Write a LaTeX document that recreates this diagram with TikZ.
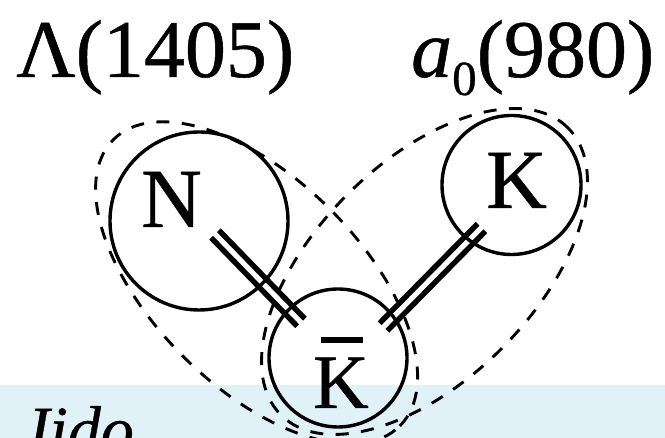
\documentclass[tikz,border=0pt]{standalone}
\usepackage{fontspec}
\setmainfont{Liberation Serif}[FakeBold=0.6]
\usetikzlibrary{calc}
\definecolor{band}{RGB}{224,242,248}
\begin{document}
\begin{tikzpicture}[x=1pt,y=1pt,
  ring/.style={draw, circle, line width=3.4pt, inner sep=0pt},
  halo/.style={draw, line width=2.9pt, dash pattern=on 13pt off 12.5pt},
  bond/.style={line width=5.4pt},
  lbl/.style={inner sep=0pt, anchor=base west, font=\fontsize{84}{84}\selectfont}]
\useasboundingbox (0,0) rectangle (665,438);
\clip (0,0) rectangle (665,438);
\fill[band] (0,0) rectangle (665,53);
% dashed groupings
\coordinate (cA) at (256.6,155.2);
\coordinate (cB) at (424.5,166.5);
\draw[halo, rotate around={-45:(cA)}] (cA) ellipse [x radius=202.5pt, y radius=104pt];
\draw[halo, rotate around={45:(cB)}] (cB) ellipse [x radius=203pt, y radius=109pt];
% particles
\node[ring, minimum size=178pt] (N) at (199,217) {};
\node[ring, minimum size=139pt] (K) at (511.5,253) {};
\node[ring, minimum size=138pt] (Kb) at (338,80) {};
\node[lbl] (Nl) at (141,211) {N};
\node[lbl] (Kl) at (486,230) {K};
\node[lbl, font=\fontsize{77}{77}\selectfont] (Kbl) at (313,30) {\rlap{\hspace{7.5pt}\rule[65pt]{42pt}{5.5pt}}K};
% bonds
\coordinate (p1) at ($(N)+(16,-13)$);
\coordinate (q1) at ($(Kb)+(-37,35.5)$);
\coordinate (p2) at ($(K)+(-30,-42.5)$);
\coordinate (q2) at ($(Kb)+(45.5,31)$);
\draw[bond] ($(p1)!5.4pt!90:(q1)$) -- ($(q1)!5.4pt!-90:(p1)$);
\draw[bond] ($(p1)!5.4pt!-90:(q1)$) -- ($(q1)!5.4pt!90:(p1)$);
\draw[bond] ($(p2)!5.4pt!90:(q2)$) -- ($(q2)!5.4pt!-90:(p2)$);
\draw[bond] ($(p2)!5.4pt!-90:(q2)$) -- ($(q2)!5.4pt!90:(p2)$);
% labels
\node[lbl, font=\fontsize{82}{82}\selectfont] (lam) at (16,361) {Λ(1405)};
\node[lbl, font=\fontsize{82}{82}\selectfont] (a0) at (411,361) {\textit{a}\raisebox{-18pt}{\fontsize{49}{49}\selectfont 0}(980)};
\node[lbl, font=\fontsize{66}{66}\selectfont\itshape] (jido) at (20,-14) {Jido};
\end{tikzpicture}
\end{document}
